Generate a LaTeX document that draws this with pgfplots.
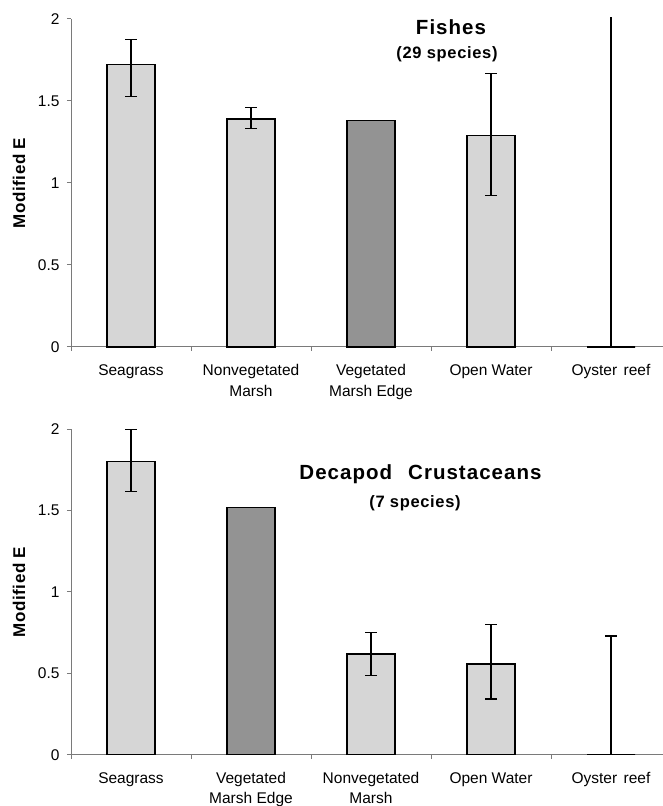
\documentclass[border=0pt]{standalone}
\usepackage{fontspec}
\setmainfont{Liberation Sans}
\usepackage{pgfplots}
\pgfplotsset{compat=1.18}

\definecolor{barlight}{HTML}{D6D6D6}
\definecolor{bardark}{HTML}{939393}
\definecolor{axisgray}{HTML}{7A7A7A}

\pgfplotsset{
  panel/.style={
    scale only axis,
    width=600pt,
    xmin=-0.5, xmax=4.5,
    ymin=0, ymax=2,
    clip=false,
    axis lines*=left,
    axis line style={draw=axisgray, line width=1pt},
    tick align=outside,
    major tick length=4pt,
    tick style={draw=axisgray, line width=1pt},
    ytick={0,0.5,1,1.5,2},
    xtick={-0.5,0.5,1.5,2.5,3.5},
    /pgf/number format/assume math mode=true,
    y tick label style={font=\fontsize{15.5}{18}\selectfont, xshift=-4pt},
    x tick label style={font=\fontsize{15.5}{20.5}\selectfont, align=center, xshift=60pt, yshift=-10pt},
    ylabel={\bfseries\addfontfeature{LetterSpace=3}Modified E},
    every axis y label/.style={at={(axis description cs:-0.0867,0.5)}, rotate=90, anchor=center,
      font=\fontsize{17}{20}\selectfont},
    ybar, bar width=48pt,
    every axis plot/.append style={bar shift=0pt, draw=black, line width=1.3pt},
    error bars/y dir=both,
    error bars/y explicit,
    error bars/error bar style={line width=1.3pt, black},
    error bars/error mark options={rotate=90, mark size=6pt, line width=1.3pt, black},
  }
}

\newcommand\titlefont{\fontsize{20.5}{24}\bfseries\addfontfeature{LetterSpace=5}}
\newcommand\subfont{\fontsize{16.5}{19}\bfseries\addfontfeature{LetterSpace=4}}

\begin{document}
\begin{tikzpicture}
\useasboundingbox (0,0) rectangle (662pt,806pt);

% Fishes
\begin{axis}[panel, at={(71pt,459pt)}, anchor=south west, height=328pt,
  xticklabels={Seagrass, {Nonvegetated\\Marsh}, {Vegetated\\Marsh Edge}, Open Water, Oyster\hspace{6.5pt}reef}]
  \addplot[fill=barlight] coordinates {
    (0,1.724) += (0,0.152) -= (0,0.198)
    (1,1.390) += (0,0.069) -= (0,0.057)
    (3,1.288) += (0,0.381) -= (0,0.365)
  };
  \addplot[fill=bardark] coordinates {(2,1.38)};
  \addplot[fill=barlight, error bars/y dir=plus, error bars/error mark=none] coordinates {
    (4,0) += (0,2.01)
  };
\end{axis}

% Decapod Crustaceans
\begin{axis}[panel, at={(71pt,51.3pt)}, anchor=south west, height=325.4pt,
  xticklabels={Seagrass, {Vegetated\\Marsh Edge}, {Nonvegetated\\Marsh}, Open Water, Oyster\hspace{6.5pt}reef}]
  \addplot[fill=barlight] coordinates {
    (0,1.803) += (0,0.197) -= (0,0.184)
    (2,0.619) += (0,0.133) -= (0,0.131)
    (3,0.557) += (0,0.244) -= (0,0.215)
  };
  \addplot[fill=bardark] coordinates {(1,1.518)};
  \addplot[fill=barlight, error bars/y dir=plus] coordinates {
    (4,0) += (0,0.73)
  };
\end{axis}

\node[font=\titlefont] at (451pt,779pt) {Fishes};
\node[font=\subfont] at (447pt,752pt) {(29 species)};
\node[font=\titlefont] at (420.5pt,332pt) {Decapod\hspace{16pt}Crustaceans};
\node[font=\subfont] at (415pt,303pt) {(7 species)};
\end{tikzpicture}
\end{document}
